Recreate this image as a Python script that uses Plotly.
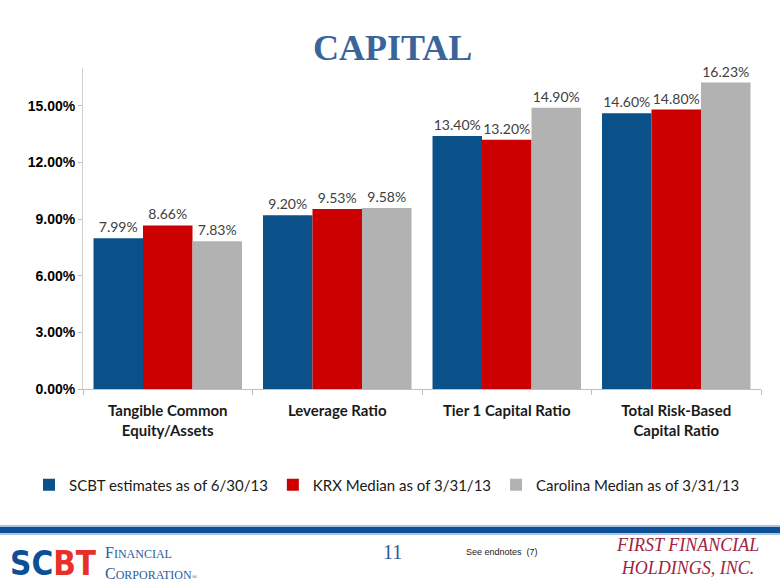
import plotly.graph_objects as go

categories = ["Tangible Common<br>Equity/Assets", "Leverage Ratio", "Tier 1 Capital Ratio", "Total Risk-Based<br>Capital Ratio"]
scbt = [7.99, 9.20, 13.40, 14.60]
krx = [8.66, 9.53, 13.20, 14.80]
carolina = [7.83, 9.58, 14.90, 16.23]
series_names = ["SCBT estimates as of 6/30/13", "KRX Median as of 3/31/13", "Carolina Median as of 3/31/13"]
colors = ["#0B5189", "#CC0000", "#B2B2B2"]
y_ticks = [0, 3, 6, 9, 12, 15]
y_tick_text = ["0.00%", "3.00%", "6.00%", "9.00%", "12.00%", "15.00%"]

W, H = 780, 585
L, R, T, B = 83, 19, 68, 196
PW, PH = W - L - R, H - T - B

def fx(px):
    return (px - L) / PW

def fy(py):
    return (H - B - py) / PH

LABEL_FONT = "Lato, Carlito, Calibri, sans-serif"
SERIF = "Liberation Serif, Times New Roman, serif"
NARROW = "Liberation Sans Narrow, Arial Narrow, DejaVu Sans Condensed, sans-serif"

fig = go.Figure()
for name, vals, col in zip(series_names, [scbt, krx, carolina], colors):
    fig.add_trace(go.Bar(
        x=categories, y=vals, name=name,
        marker=dict(color=col, line=dict(width=0)),
        text=[f"{v:.2f}%" for v in vals], textposition="outside",
        textfont=dict(family=LABEL_FONT, size=14, color="#404040"),
        cliponaxis=False,
    ))

fig.update_layout(
    width=W, height=H,
    margin=dict(l=L, r=R, t=T, b=B, autoexpand=False),
    paper_bgcolor="white", plot_bgcolor="white",
    barmode="group", bargap=0.124, bargroupgap=0,
    showlegend=True,
    legend=dict(orientation="h", x=fx(29), y=fy(485), xanchor="left", yanchor="middle",
                font=dict(family=LABEL_FONT, size=15, color="#1a1a1a"),
                itemwidth=30, traceorder="normal", tracegroupgap=0),
    xaxis=dict(showline=True, linecolor="#BFBFBF", linewidth=1, automargin=False,
               ticks="outside", tickson="boundaries", ticklen=5, tickcolor="#BFBFBF",
               ticklabelstandoff=8,
               tickfont=dict(family=LABEL_FONT, size=15, color="#1a1a1a", weight="bold"),
               showgrid=False),
    yaxis=dict(range=[0, 17], tickvals=y_ticks, ticktext=y_tick_text, automargin=False,
               showline=True, linecolor="#D0D0D0", linewidth=1,
               ticks="outside", ticklen=4, tickcolor="#BFBFBF",
               tickfont=dict(family="Liberation Sans, Arial, sans-serif", size=14, color="#000000", weight="bold"),
               showgrid=False, zeroline=False),
    font=dict(family=LABEL_FONT),
)

# Title
fig.add_annotation(text="<b>CAPITAL</b>", xref="paper", yref="paper", x=fx(392), y=fy(48),
                   xanchor="center", yanchor="middle", showarrow=False,
                   font=dict(family=SERIF, size=36, color="#3A659B"))

# Footer band
fig.add_shape(type="rect", xref="paper", yref="paper", x0=fx(0), x1=fx(780), y0=fy(535), y1=fy(525),
              fillcolor="#A9C4E0", line=dict(width=0), layer="above")
fig.add_shape(type="rect", xref="paper", yref="paper", x0=fx(0), x1=fx(780), y0=fy(533), y1=fy(527),
              fillcolor="#0D4F96", line=dict(width=0), layer="above")

# SCBT logo approximation
fig.add_annotation(text="<b><span style='color:#0D4F96'>SC</span><span style='color:#E8302A'>BT</span></b>",
                   xref="paper", yref="paper", x=fx(53), y=fy(563),
                   xanchor="center", yanchor="middle", showarrow=False,
                   font=dict(family=NARROW, size=33, color="#0D4F96"))
fig.add_annotation(text="F<span style='font-size:12px'>INANCIAL</span><br>C<span style='font-size:12px'>ORPORATION</span><span style='font-size:7px'>®</span>",
                   xref="paper", yref="paper", x=fx(103), y=fy(563),
                   xanchor="left", yanchor="middle", showarrow=False, align="left",
                   font=dict(family=SERIF, size=16, color="#2B5C9A"))

# Page number and endnote
fig.add_annotation(text="11", xref="paper", yref="paper", x=fx(392), y=fy(552),
                   xanchor="center", yanchor="middle", showarrow=False,
                   font=dict(family=SERIF, size=20, color="#2B5C9A"))
fig.add_annotation(text="See endnotes  (7)", xref="paper", yref="paper", x=fx(464), y=fy(552),
                   xanchor="left", yanchor="middle", showarrow=False,
                   font=dict(family="Liberation Sans, Arial, sans-serif", size=9, color="#222222"))

# First Financial logo
fig.add_annotation(text="<i>FIRST FINANCIAL<br>HOLDINGS, INC.</i>", xref="paper", yref="paper", x=fx(687), y=fy(556),
                   xanchor="center", yanchor="middle", showarrow=False, align="center",
                   font=dict(family=SERIF, size=18, color="#A0243F"))

fig.write_html("out.html", config={"displayModeBar": False},
               post_script="document.body.style.margin='0';document.body.style.overflow='hidden';")
